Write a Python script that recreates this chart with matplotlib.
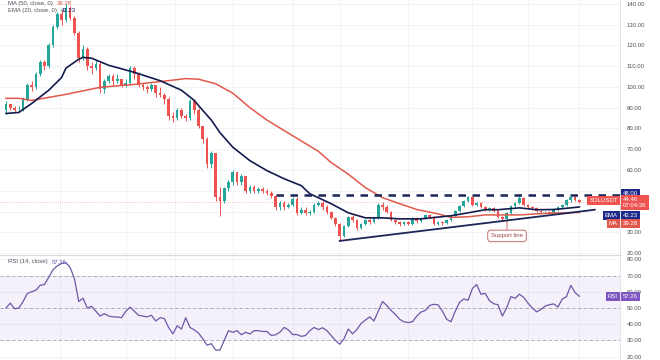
import matplotlib
matplotlib.use("Agg")
import matplotlib.pyplot as plt
import numpy as np

plt.rcParams['font.family'] = ['Liberation Sans', 'DejaVu Sans']

# daily candles, SOL/USDT (open = previous close)
first_open = 88.7
closes = [92, 90, 89, 89, 94, 101, 100, 106, 112,
          110, 120, 129, 135, 132, 138, 133, 126, 114, 118,
          110, 109, 111, 99, 103, 105, 103, 104, 101, 102,
          109, 106, 101, 100, 99, 101, 97, 96, 94,
          86, 85, 89, 86, 85, 93, 89, 81, 75, 63,
          68, 47, 45, 51.5, 54, 59, 54, 57, 50, 52,
          50, 51, 50, 49, 47.6, 42, 44, 42, 43, 46,
          39.5, 41, 39.5, 40, 43, 44, 42, 40, 37, 34,
          28.5, 33, 37.5, 36, 32, 34, 36, 35, 37, 43,
          42, 40, 36, 35, 34, 35, 34, 37, 35.5, 37,
          38.5, 37.5, 34, 35, 34.5, 36, 38, 40.5, 42.5, 45,
          47, 43, 44, 42, 41, 41.5, 40.5, 37.5, 36.5, 39.4,
          42.8, 44, 46.5, 43, 42, 41.5, 40.5, 40, 40, 39.5,
          41, 42, 43, 45.7, 47, 45.5, 44.46]
highs = [93, 92, 91, 91, 95, 102, 103, 107, 113,
         113, 121, 130, 136, 137, 140, 139, 134, 127, 120,
         119, 112, 113, 112, 104, 106, 106, 106, 104, 104,
         110, 110, 107, 102, 101, 102, 101, 100, 97,
         95, 88, 90, 90, 87, 94, 94, 90, 81, 76,
         69, 68, 52, 52, 55, 60, 59, 58, 57, 53,
         53, 52, 52, 51, 50, 48, 45, 45, 44, 47,
         47, 42, 42, 41, 44, 45, 45, 43, 40.5, 37.5,
         34.5, 33.5, 38, 38.5, 36.5, 34.5, 36.5, 37, 37.5, 44,
         44.5, 43, 40.5, 36.5, 35.5, 35.5, 35.5, 37.5, 37.5, 37.5,
         39, 39, 38, 35.5, 35.5, 36.5, 38.5, 41, 43, 45.5,
         47.6, 47.5, 44.5, 44.5, 42.5, 42, 42, 41, 38, 40,
         43.2, 44.5, 48.6, 47, 43.5, 42.5, 42, 41, 40.5, 40.5,
         41.5, 42.5, 43.5, 46, 47.3, 47.6, 46]
lows = [87, 89, 88, 88, 88.5, 93, 98, 99, 105,
        108, 109, 119, 128, 130, 131, 132, 125, 112, 113,
        108, 106, 108, 97, 97, 102, 101, 102, 100, 100,
        101, 104, 100, 98.5, 97, 98, 95, 95, 92,
        84, 83, 84, 85, 83.5, 84, 87, 80, 73, 61,
        61, 45, 38, 44, 50, 53, 53, 53, 49, 49,
        49, 49, 49, 48, 46.5, 41, 41, 41, 41.5, 42.5,
        38.5, 39, 38.5, 38.5, 39.5, 42.5, 41, 39, 36.5, 33,
        26, 28, 32.5, 35, 31, 31.5, 33.5, 34, 34.5, 36.5,
        41, 39.5, 35.5, 34, 33, 33.5, 33.5, 33.5, 34.5, 35,
        36.5, 37, 33.5, 33.5, 33.5, 34, 35.5, 37.5, 40, 42,
        44.5, 42.5, 42.5, 41.5, 40.5, 40.5, 40, 37, 35.8, 35.6,
        39, 42, 43.5, 42.5, 41.3, 41, 40, 39.3, 39.2, 39,
        39.2, 40.5, 41.5, 42.5, 44.8, 45, 44]

ema_days = [0, 3, 6, 10, 13, 14, 17, 18, 20, 24, 30, 36, 41, 44, 45, 48, 50, 53,
            57, 61, 65, 69, 71, 76, 80, 84, 88, 92, 97, 104, 108, 112, 115, 120,
            124, 128, 132, 134]
ema_vals = [87.2, 87.7, 92, 98.4, 104.5, 109, 113.3, 114.2, 113.8, 110.4, 107, 103,
            98.4, 93.5, 91, 84, 78, 71, 64.5, 59.7, 55.8, 52.5, 48.6, 43.8, 39.4, 37,
            37, 36.5, 36.5, 38, 39.4, 40.9, 40.9, 41.8, 40.9, 41, 41.8, 42.23]
ma_days = [0, 3, 6, 14, 22, 30, 38, 42, 45, 49, 53, 57, 61, 65, 69, 73, 76, 80,
           84, 88, 92, 96, 101, 104, 108, 112, 116, 120, 124, 128, 134]
ma_vals = [94.5, 94.5, 93.5, 96.4, 99.8, 101.2, 103, 104, 103.7, 101.5, 97, 90, 84,
           79, 74, 69, 63.6, 58, 51.5, 46.7, 43.8, 41, 38.9, 37.2, 37.5, 38.4, 38.4,
           38.4, 38.9, 39.3, 39.6]
rsi = [50, 53, 49.5, 50, 54, 59, 60, 61, 64, 64.5,
       69, 73.6, 76, 77.5, 78, 75, 68, 54, 56, 50,
       51, 48, 45, 46.5, 45, 44.5, 44.5, 44, 48, 50.5,
       48, 45.5, 45, 44.5, 45.5, 42, 44, 43.5, 38, 34,
       39, 37, 44, 38, 36.5, 34.5, 31, 27, 28, 24,
       24, 30, 36, 35, 36, 33.5, 35, 34, 36, 36,
       35.5, 35.5, 33, 33.5, 35, 38, 36.5, 33.6, 33.6, 32.5,
       33, 36, 38, 36.7, 37.8, 36, 33, 30, 27.6, 31,
       37, 34, 36.7, 40.5, 42.5, 44.5, 42, 48, 54, 51.5,
       48.5, 46, 43, 41.5, 41, 41.5, 45, 47.5, 48.5, 51.5,
       52.3, 51.9, 48, 43, 41.5, 48, 53.5, 55.6, 54.8, 62,
       64.5, 58.5, 59, 54.5, 52.6, 52, 45, 50, 57, 56,
       58.5, 56.5, 53, 50, 47.6, 49, 51.2, 52, 52.5, 50.6,
       55.5, 57, 64, 59.5, 57.26]

resistance = 48.0
resistance_from = 63
support_days = [78, 137.6]
support_prices = [25.9, 40.9]
grid_days = [12.6, 28, 39.5, 53, 67, 78, 94, 109, 122, 134]
price_ticks = list(range(20, 150, 10))
hidden_price_ticks = [40, 50]   # covered by the EMA and 48.00 tags
rsi_ticks = [20, 30, 40, 50, 60, 70, 80]

UP, DOWN = '#26a69a', '#ef5350'
NAVY = '#141b4d'
MA_C = '#e0594c'
RSI_C = '#6e57a8'
GRID = '#f0f1f5'
TXT = '#50535e'

closes = np.array(closes)
opens = np.concatenate([[first_open], closes[:-1]])
days = np.arange(len(closes))
up = closes >= opens
colors = np.where(up, UP, DOWN)

fig = plt.figure(figsize=(6.6, 3.6), dpi=100)
ax = fig.add_axes([0, 106 / 360, 620 / 660, 254 / 360])
ax2 = fig.add_axes([0, 0, 620 / 660, 105 / 360])
xlim = (-1.4, 143.5)

for a, ticks, ylim in ((ax, price_ticks, (19.6, 141.8)), (ax2, rsi_ticks, (17.9, 82.7))):
    a.set_xlim(*xlim)
    a.set_ylim(*ylim)
    a.set_xticks(grid_days)
    a.set_xticklabels([])
    a.set_yticks(ticks)
    labels = ['' if (a is ax and t in hidden_price_ticks) else '%.2f' % t for t in ticks]
    a.set_yticklabels(labels, fontsize=4.3, color=TXT)
    a.yaxis.tick_right()
    a.tick_params(axis='both', length=0, pad=5)
    a.grid(True, color=GRID, lw=0.6)
    a.set_axisbelow(True)
    for s in ('left', 'top', 'bottom'):
        a.spines[s].set_visible(False)
    a.spines['right'].set_color('#e0e3eb')
    a.spines['right'].set_linewidth(0.7)
ax2.spines['top'].set_visible(True)
ax2.spines['top'].set_color('#d6d8de')
ax2.spines['top'].set_linewidth(0.8)

# candles
ax.vlines(days, lows, highs, colors=colors, lw=0.7, zorder=2)
ax.bar(days, np.abs(closes - opens), bottom=np.minimum(opens, closes), width=0.62,
       color=colors, lw=0, zorder=3)

ax.axhline(closes[-1], color=DOWN, lw=0.6, ls=':', alpha=0.5, zorder=1)
ax.plot(ma_days, ma_vals, color=MA_C, lw=1.1, zorder=4)
ax.plot(ema_days, ema_vals, color=NAVY, lw=1.2, zorder=4)
ax.hlines(resistance, resistance_from, xlim[1], colors='#1c2556', lw=1.8,
          linestyles=(0, (3.0, 2.6)), zorder=5)
ax.plot(support_days, support_prices, color='#1c2556', lw=1.3, zorder=5)
ax.annotate('Support line', xy=(117.1, 35.3), xytext=(117.1, 28.3), ha='center',
            va='center', fontsize=4.3, color='#9b4848', zorder=6,
            bbox=dict(boxstyle='round,pad=0.55', fc='white', ec='#c46a6a', lw=0.7),
            arrowprops=dict(arrowstyle='-', color='#c46a6a', lw=0.7, shrinkA=0, shrinkB=0))

# legend text
t1 = fig.text(8 / 660, 1 - 3.5 / 360, 'MA (50, close, 0)', fontsize=4.3, color=TXT, va='center')
ax.annotate('39.28', xy=(1, 0.5), xycoords=t1, xytext=(3, 0), textcoords='offset points',
            fontsize=4.3, color=MA_C, va='center')
t2 = fig.text(8 / 660, 1 - 10.5 / 360, 'EMA (20, close, 0)', fontsize=4.3, color=TXT, va='center')
ax.annotate('42.23', xy=(1, 0.5), xycoords=t2, xytext=(3, 0), textcoords='offset points',
            fontsize=4.3, color=NAVY, va='center')
t3 = ax2.text(8 / 620, 1 - 7 / 105, 'RSI (14, close)', transform=ax2.transAxes,
              fontsize=4.3, color=TXT, va='center')
ax2.annotate('57.26', xy=(1, 0.5), xycoords=t3, xytext=(3, 0), textcoords='offset points',
             fontsize=4.3, color=RSI_C, va='center')


def axis_tag(a, text, y, fc, side='right'):
    if side == 'right':
        xt, ha = (2.2, 0), 'left'
    else:
        xt, ha = (-1.5, 0), 'right'
    a.annotate(text, xy=(1, y), xycoords=('axes fraction', 'data'), xytext=xt,
               textcoords='offset points', ha=ha, va='center', fontsize=4.3,
               color='white', annotation_clip=False, zorder=10,
               bbox=dict(boxstyle='square,pad=0.35', fc=fc, ec='none'))


axis_tag(ax, '48.00', 48.6, '#1d2a8a')
axis_tag(ax, '44.46\n07:04:36', 44.2, DOWN)
axis_tag(ax, 'SOLUSDT', 45.2, DOWN, side='left')
axis_tag(ax, '42.23', 38.0, '#1d2a8a')
axis_tag(ax, 'EMA', 38.0, '#1d2a8a', side='left')
axis_tag(ax, '39.28', 34.2, MA_C)
axis_tag(ax, 'MA', 34.2, MA_C, side='left')

# RSI panel
ax2.fill_between(xlim, 30, 70, color='#7e57c2', alpha=0.08, lw=0)
for lvl in (70, 50, 30):
    ax2.axhline(lvl, color='#a3a6af', lw=0.6, ls=(0, (4, 3)))
ax2.plot(days, rsi, color=RSI_C, lw=0.9)
axis_tag(ax2, '57.26', 57.26, '#7e57c2')
axis_tag(ax2, 'RSI', 57.26, '#7e57c2', side='left')

fig.savefig('out.png', dpi=100)
